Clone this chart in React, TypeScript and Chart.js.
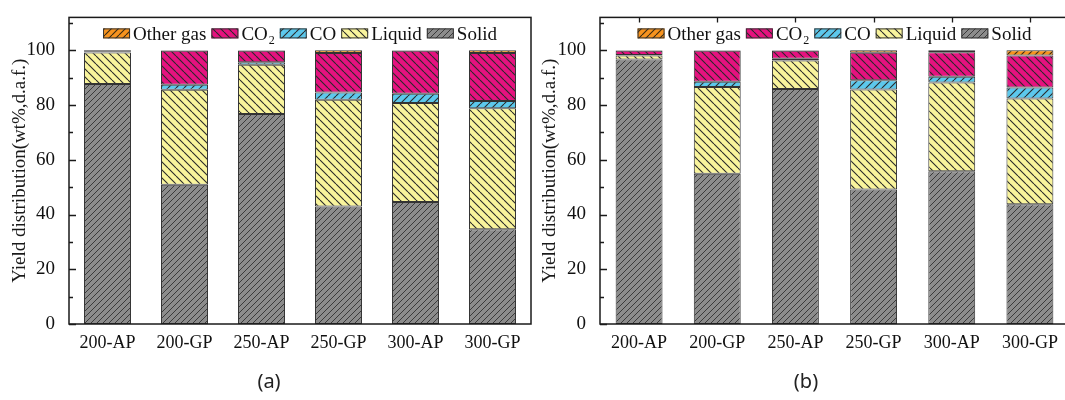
import React, { useEffect, useRef } from 'react';
import { Chart, registerables } from 'chart.js';

Chart.register(...registerables);

const categories = ['200-AP', '200-GP', '250-AP', '250-GP', '300-AP', '300-GP'];
const yTickValues = [0, 20, 40, 60, 80, 100];
const yTitle = 'Yield distribution(wt%,d.a.f.)';

// Panel (a)
const solidA = [87.7, 50.9, 76.7, 42.9, 44.6, 34.6];
const liquidA = [11.5, 34.7, 18.0, 39.0, 36.1, 44.2];
const coA = [0.1, 1.8, 0.9, 2.7, 3.4, 2.7];
const co2A = [0.3, 12.4, 4.2, 14.4, 15.7, 17.5];
const otherA = [0.4, 0.2, 0.2, 1.0, 0.2, 1.0];

// Panel (b)
const solidB = [96.6, 54.9, 85.8, 49.1, 55.8, 43.7];
const liquidB = [1.5, 31.7, 10.5, 36.6, 32.4, 38.7];
const coB = [0.2, 1.9, 0.6, 3.3, 2.1, 4.0];
const co2B = [1.5, 11.3, 2.9, 10.1, 9.0, 11.7];
const otherB = [0.2, 0.2, 0.2, 0.9, 0.7, 1.9];

const SERIF = "'Liberation Serif', 'Times New Roman', serif";

function makePattern(bg: string, line: string, dir: 'f' | 'b', size: number, lw: number) {
  const c = document.createElement('canvas');
  c.width = size;
  c.height = size;
  const g = c.getContext('2d')!;
  g.fillStyle = bg;
  g.fillRect(0, 0, size, size);
  g.strokeStyle = line;
  g.lineWidth = lw;
  g.beginPath();
  for (let k = -1; k <= 1; k++) {
    if (dir === 'f') {
      g.moveTo(k * size, size);
      g.lineTo(k * size + size, 0);
    } else {
      g.moveTo(k * size, 0);
      g.lineTo(k * size + size, size);
    }
  }
  g.stroke();
  const ctx = document.createElement('canvas').getContext('2d')!;
  return ctx.createPattern(c, 'repeat') as CanvasPattern;
}

type PanelOpts = {
  left: number;
  right: number;
  top: number;
  axisH: number;
  bp: number;
  topTicks: boolean;
};

function framePlugin(opts: PanelOpts) {
  return {
    id: 'frameLegend',
    afterDatasetsDraw(chart: any) {
      const { ctx, chartArea: a, scales } = chart;
      const y = scales.y;
      const x = scales.x;
      ctx.save();
      ctx.strokeStyle = '#1a1a1a';
      ctx.lineWidth = 1.5;
      ctx.strokeRect(a.left, a.top, a.right - a.left, a.bottom - a.top);
      ctx.lineWidth = 1.3;
      ctx.beginPath();
      for (let v = 0; v <= 110; v += 10) {
        const py = Math.round(y.getPixelForValue(v)) + 0.5;
        const len = v % 20 === 0 ? 7 : 4;
        ctx.moveTo(a.left, py);
        ctx.lineTo(a.left + len, py);
      }
      if (opts.topTicks) {
        for (let i = 0; i < categories.length; i++) {
          const px = Math.round(x.getPixelForValue(i)) + 0.5;
          ctx.moveTo(px, a.top);
          ctx.lineTo(px, a.top + 5);
        }
      }
      ctx.stroke();

      // legend (reversed order)
      const ds = chart.data.datasets.slice().reverse();
      const fontMain = `19px ${SERIF}`;
      const fontSub = `12px ${SERIF}`;
      const sw = 27, sh = 10, gap = 3, spacing = 5;
      const measure = (label: string) => {
        if (label === 'CO₂') {
          ctx.font = fontMain;
          const w1 = ctx.measureText('CO').width;
          ctx.font = fontSub;
          return w1 + ctx.measureText('2').width + 1;
        }
        ctx.font = fontMain;
        return ctx.measureText(label).width;
      };
      const widths = ds.map((d: any) => measure(d.label));
      let total = 0;
      widths.forEach((w: number, i: number) => {
        total += sw + gap + w + (i < widths.length - 1 ? spacing : 0);
      });
      let cx = (a.left + a.right) / 2 - total / 2;
      const cy = a.top + 16;
      ctx.textBaseline = 'alphabetic';
      ctx.textAlign = 'left';
      ds.forEach((d: any, i: number) => {
        ctx.fillStyle = d.backgroundColor;
        ctx.fillRect(cx, cy - sh / 2, sw, sh);
        ctx.strokeStyle = '#333';
        ctx.lineWidth = 1;
        ctx.strokeRect(cx + 0.5, cy - sh / 2 + 0.5, sw - 1, sh - 1);
        const tx = cx + sw + gap;
        ctx.fillStyle = '#111';
        const base = cy + 6.5;
        if (d.label === 'CO₂') {
          ctx.font = fontMain;
          ctx.fillText('CO', tx, base);
          const w1 = ctx.measureText('CO').width;
          ctx.font = fontSub;
          ctx.fillText('2', tx + w1 + 1, base + 4);
        } else {
          ctx.font = fontMain;
          ctx.fillText(d.label, tx, base);
        }
        cx += sw + gap + widths[i] + spacing;
      });
      ctx.restore();
    },
  };
}

function buildChart(canvas: HTMLCanvasElement, series: number[][], opts: PanelOpts) {
  const pats = {
    solid: makePattern('#8c8c8c', '#3a3a3a', 'f', 6, 1),
    liquid: makePattern('#f9f49c', '#2a2a2a', 'b', 8, 1.1),
    co: makePattern('#5cc8ec', '#2a2a2a', 'f', 8, 1.1),
    co2: makePattern('#e5127f', '#2a2a2a', 'b', 8, 1.1),
    other: makePattern('#f7931e', '#3a2a10', 'f', 7, 1.1),
  };
  const names = ['Solid', 'Liquid', 'CO', 'CO₂', 'Other gas'];
  const bgs = [pats.solid, pats.liquid, pats.co, pats.co2, pats.other];
  const datasets = series.map((d, i) => ({
    label: names[i],
    data: d,
    backgroundColor: bgs[i],
    borderColor: '#333',
    borderWidth: 1,
    borderSkipped: false,
    barPercentage: opts.bp,
    categoryPercentage: 1,
  }));
  return new Chart(canvas, {
    type: 'bar',
    data: { labels: categories, datasets },
    options: {
      responsive: false,
      animation: false,
      devicePixelRatio: 1,
      layout: { padding: { top: opts.top, right: opts.right, left: 0, bottom: 0 } },
      plugins: { legend: { display: false }, tooltip: { enabled: false } },
      scales: {
        x: {
          stacked: true,
          grid: { display: false },
          border: { display: false },
          ticks: {
            font: { family: SERIF, size: 18 },
            color: '#111',
            padding: 0,
            maxRotation: 0,
            autoSkip: false,
          },
          afterFit: (s: any) => {
            s.height = opts.axisH;
          },
        },
        y: {
          stacked: true,
          min: 0,
          max: 112,
          grid: { display: false },
          border: { display: false },
          ticks: { font: { family: SERIF, size: 19 }, color: '#111', padding: 6 },
          afterBuildTicks: (s: any) => {
            s.ticks = yTickValues.map((v) => ({ value: v }));
          },
          afterFit: (s: any) => {
            s.width = opts.left;
          },
          title: {
            display: true,
            text: yTitle,
            font: { family: SERIF, size: 19 },
            color: '#1a1a1a',
            padding: { top: 9, bottom: 0 },
          },
        },
      },
    } as any,
    plugins: [framePlugin(opts)],
  });
}

export default function App() {
  const refA = useRef<HTMLCanvasElement>(null);
  const refB = useRef<HTMLCanvasElement>(null);

  useEffect(() => {
    document.body.style.margin = '0';
    document.body.style.overflow = 'hidden';
    const a = buildChart(refA.current!, [solidA, liquidA, coA, co2A, otherA], {
      left: 69, right: 9, top: 14, axisH: 76, bp: 0.61, topTicks: false,
    });
    const b = buildChart(refB.current!, [solidB, liquidB, coB, co2B, otherB], {
      left: 70, right: 6, top: 8, axisH: 76, bp: 0.6, topTicks: true,
    });
    return () => {
      a.destroy();
      b.destroy();
    };
  }, []);

  const capStyle: React.CSSProperties = {
    position: 'absolute',
    width: 100,
    textAlign: 'center',
    top: 369,
    font: "20px 'Noto Sans', sans-serif",
    lineHeight: '24px',
    color: '#222',
  };

  return (
    <div style={{ position: 'absolute', left: 0, top: 0, width: 1065, height: 400, overflow: 'hidden', background: '#fff' }}>
      <canvas ref={refA} width={540} height={400} style={{ position: 'absolute', left: 0, top: 0, width: 540, height: 400 }} />
      <canvas ref={refB} width={545} height={400} style={{ position: 'absolute', left: 530, top: 0, width: 545, height: 400 }} />
      <div style={{ ...capStyle, left: 269 - 50 }}>(a)</div>
      <div style={{ ...capStyle, left: 806 - 50 }}>(b)</div>
    </div>
  );
}
